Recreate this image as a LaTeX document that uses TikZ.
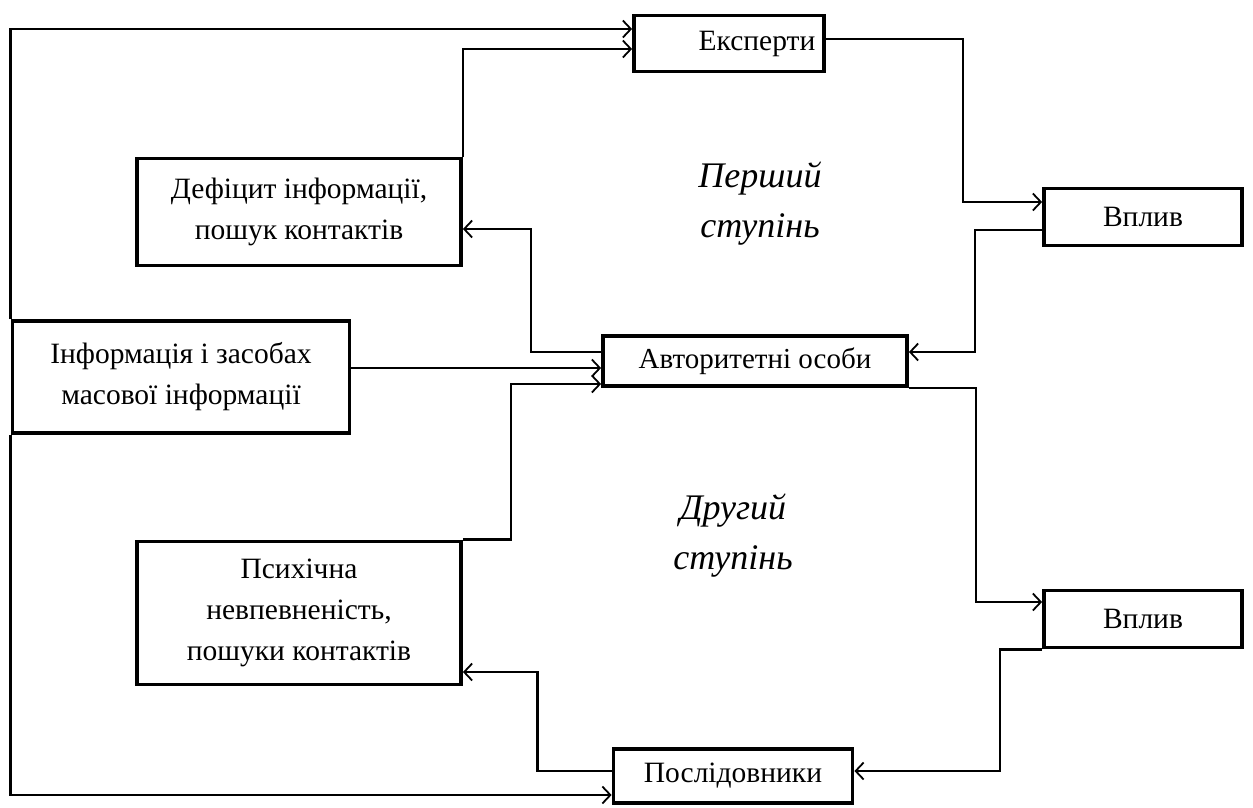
\documentclass[tikz,border=0pt]{standalone}
\usepackage{fontspec}
\setmainfont{Liberation Serif}
\usetikzlibrary{arrows.meta}
\begin{document}
\begin{tikzpicture}[x=1pt,y=-1pt,
  box/.style={draw, line width=3.8pt, align=center, inner sep=0pt,
    font=\fontsize{29.5}{41}\selectfont},
  con/.style={line width=2.4pt, -{Straight Barb[length=8pt,width=17pt,line width=1.8pt]}},
  stage/.style={align=center, font=\fontsize{36}{50}\selectfont\itshape}]
\useasboundingbox (0,0) rectangle (1253,807);
\node[box, minimum width=190pt, minimum height=56pt] (eksp) at (729,43.5) {\hspace*{56pt}Експерти};
\node[box, minimum width=324pt, minimum height=107pt] (defic) at (299,212) {Дефіцит інформації,\\пошук контактів};
\node[box, minimum width=198pt, minimum height=57pt] (vplyv1) at (1143,217) {Вплив};
\node[box, minimum width=337pt, minimum height=112pt] (inform) at (181,377) {Інформація і засобах\\масової інформації};
\node[box, minimum width=304pt, minimum height=50pt, font=\fontsize{29}{30}\selectfont] (avtor) at (755,361) {Авторитетні особи};
\node[box, minimum width=324pt, minimum height=143pt] (psykh) at (299,613) {Психічна\\невпевненість,\\пошуки контактів};
\node[box, minimum width=198pt, minimum height=57pt] (vplyv2) at (1143,619) {Вплив};
\node[box, minimum width=239pt, minimum height=54pt] (poslid) at (733,776) {Послідовники};
\node[stage] (st1) at (760,204) {Перший\\ступінь};
\node[stage] (st2) at (733,536) {Другий\\ступінь};
% connectors
\draw[con] (inform.north west) |- ([yshift=14.5pt]eksp.west);
\draw[con] (inform.south west) |- ([yshift=-19pt]poslid.west);
\draw[con] (defic.north east) |- ([yshift=-5.5pt]eksp.west);
\draw[con] ([yshift=4.5pt]eksp.east) -- ++(137,0) |- ([yshift=15pt]vplyv1.west);
\draw[con] ([yshift=-13pt]vplyv1.west) -- ++(-67,0) |- ([yshift=9pt]avtor.east);
\draw[con] ([yshift=9pt]avtor.west) -- ++(-70,0) |- ([yshift=-17pt]defic.east);
\draw[con] ([yshift=-7pt]avtor.west -| inform.east) -- ([yshift=-7pt]avtor.west);
\draw[con] (psykh.north east) -- ++(48,0) |- ([yshift=-23pt]avtor.west);
\draw[con] (avtor.south east) -- ++(67,0) |- ([yshift=17pt]vplyv2.west);
\draw[con] (vplyv2.south west) -- ++(-42,0) |- ([yshift=5pt]poslid.east);
\draw[con] ([yshift=5pt]poslid.west) -- ++(-74,0) |- ([yshift=-59pt]psykh.east);
\end{tikzpicture}
\end{document}
